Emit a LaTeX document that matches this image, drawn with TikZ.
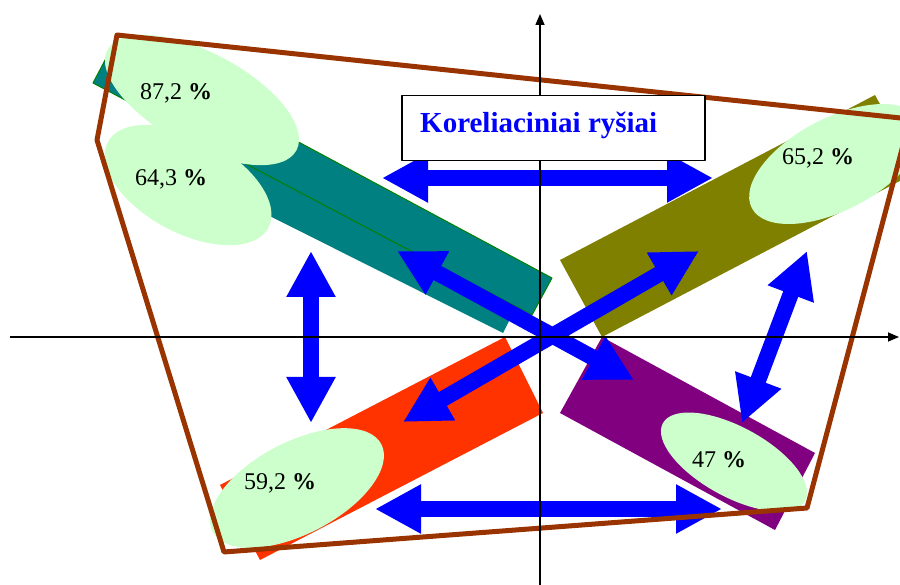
\documentclass[tikz,border=0pt]{standalone}
\usepackage{fontspec}
\setmainfont{Liberation Serif}
\usetikzlibrary{arrows.meta}

\definecolor{tealbar}{RGB}{0,128,128}
\definecolor{tealedge}{RGB}{0,128,0}
\definecolor{olivebar}{RGB}{128,128,0}
\definecolor{purplebar}{RGB}{128,0,128}
\definecolor{redbar}{RGB}{255,51,0}
\definecolor{capfill}{RGB}{204,255,204}
\definecolor{framecol}{RGB}{153,51,0}

\tikzset{
  dblarrow/.style={draw=blue, line width=16pt, line cap=butt,
    {Triangle[length=46pt,width=46pt]}-{Triangle[length=46pt,width=46pt]}},
  pct/.style={font=\fontsize{24}{28}\selectfont, anchor=base, inner sep=0pt},
}

\begin{document}
\begin{tikzpicture}[x=1pt,y=-1pt,line join=round]
\useasboundingbox (0,0) rectangle (900,585);

% --- bars ---
\fill[tealbar] (160,161) -- (503,333) -- (532,275) -- (189,103) -- cycle;
\filldraw[fill=tealbar, draw=tealedge, line width=1pt]
  (114,43) -- (552,278) -- (532,315) -- (93,83) -- cycle;
\fill[redbar]    (220,485) -- (505,337) -- (543,413) -- (260,560) -- cycle;
\fill[olivebar]  (560,260) -- (875,95)  -- (917,172) -- (602,337) -- cycle;
\fill[purplebar] (602,337) -- (815,453) -- (775,530) -- (560,413) -- cycle;

% --- caps ---
\fill[capfill, rotate around={-28:(188,185)}] (188,185) ellipse [x radius=91pt, y radius=48pt];
\fill[capfill, rotate around={-28:(202,100)}] (202,100) ellipse [x radius=107pt, y radius=47pt];
\fill[capfill, rotate around={27.6:(836,164)}] (836,164) ellipse [x radius=95pt, y radius=46pt];
\fill[capfill, rotate around={27.4:(297,488)}] (297,488) ellipse [x radius=95pt, y radius=46pt];
\fill[capfill, rotate around={-28.6:(734,462)}] (734,462) ellipse [x radius=81pt, y radius=35pt];

% --- blue arrows ---
\coordinate (topL) at (382,178);  \coordinate (topR) at (713,178);
\coordinate (botL) at (375,509);  \coordinate (botR) at (722,509);
\coordinate (lefT) at (311,251);  \coordinate (lefB) at (311,423);
\coordinate (rigT) at (807,251);  \coordinate (rigB) at (742,423);
\coordinate (teal) at (397,251);  \coordinate (purp) at (634,380);
\coordinate (oliv) at (699,251);  \coordinate (red)  at (403,422);

\draw[dblarrow] (topL) -- (topR);
\draw[dblarrow] (botL) -- (botR);
\draw[dblarrow] (lefT) -- (lefB);
\draw[dblarrow] (rigT) -- (rigB);
\draw[dblarrow] (teal) -- (purp);
\draw[dblarrow] (oliv) -- (red);

% --- frame ---
\draw[framecol, line width=5pt] (117,35) -- (910,119) -- (807,508) -- (224,552) -- (97,140) -- cycle;

% --- axes ---
\draw[line width=1.5pt, -{Triangle[length=11pt,width=9pt]}] (540,585) -- (540,14);
\draw[line width=1.5pt, -{Triangle[length=11pt,width=9pt]}] (10,337) -- (899,337);

% --- title ---
\node[draw, line width=1.5pt, fill=white, minimum width=303pt, minimum height=65pt,
      anchor=north west, inner sep=0pt] (titlebox) at (401,95) {};
\node[anchor=base west, inner sep=0pt, text=blue, font=\fontsize{29}{34}\selectfont\bfseries]
  (title) at (420,133) {Koreliaciniai ryšiai};

% --- labels ---
\node[pct] (p87) at (176,100) {87,2 \textbf{\%}};
\node[pct] (p64) at (171,186) {64,3 \textbf{\%}};
\node[pct] (p65) at (818,165) {65,2 \textbf{\%}};
\node[pct] (p59) at (280,489) {59,2 \textbf{\%}};
\node[pct] (p47) at (719,467) {47 \textbf{\%}};
\end{tikzpicture}
\end{document}
